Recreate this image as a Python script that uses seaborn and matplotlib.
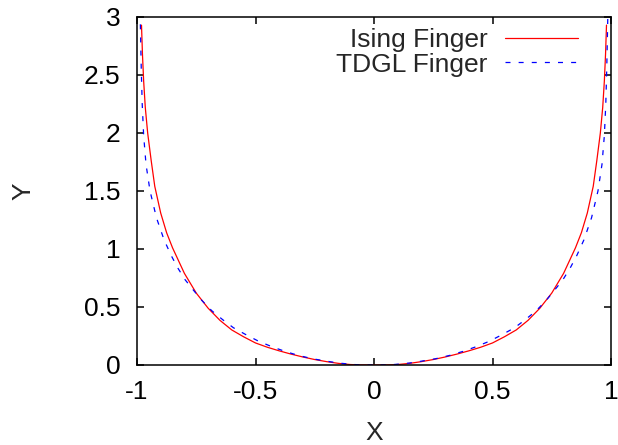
import pandas as pd
import seaborn as sns
import matplotlib
matplotlib.use("Agg")
import matplotlib.pyplot as plt

# values (both fingers are nearly symmetric)
ising_x = [-0.981, -0.977, -0.972, -0.965, -0.955, -0.940, -0.925, -0.900, -0.875,
           -0.850, -0.800, -0.750, -0.700, -0.650, -0.600, -0.550, -0.500, -0.450,
           -0.400, -0.350, -0.300, -0.250, -0.200, -0.150, -0.100, -0.060, 0.0,
           0.060, 0.100, 0.150, 0.200, 0.250, 0.300, 0.350, 0.400, 0.450, 0.500,
           0.550, 0.600, 0.650, 0.700, 0.750, 0.800, 0.850, 0.875, 0.900, 0.925,
           0.940, 0.955, 0.965, 0.972, 0.977, 0.981]
ising_y = [2.93, 2.68, 2.45, 2.22, 2.00, 1.76, 1.54, 1.31, 1.14,
           1.01, 0.79, 0.62, 0.49, 0.385, 0.302, 0.243, 0.190, 0.153,
           0.122, 0.094, 0.069, 0.047, 0.029, 0.014, 0.004, 0.001, 0.0,
           0.001, 0.004, 0.014, 0.029, 0.047, 0.069, 0.094, 0.122, 0.153, 0.190,
           0.243, 0.302, 0.385, 0.49, 0.62, 0.79, 1.01, 1.14, 1.31, 1.54,
           1.76, 2.00, 2.22, 2.45, 2.68, 2.93]

tdgl_x = [-0.987, -0.985, -0.982, -0.978, -0.972, -0.962, -0.945, -0.918, -0.886,
          -0.856, -0.828, -0.797, -0.761, -0.726, -0.684, -0.638, -0.593, -0.540,
          -0.487, -0.430, -0.375, -0.320, -0.260, -0.200, -0.150, -0.090, -0.060, 0.0,
          0.060, 0.090, 0.150, 0.200, 0.260, 0.320, 0.375, 0.430, 0.487, 0.540,
          0.593, 0.638, 0.684, 0.726, 0.761, 0.797, 0.828, 0.856, 0.886, 0.918,
          0.945, 0.962, 0.972, 0.978, 0.982, 0.985, 0.987]
tdgl_y = [3.05, 2.85, 2.55, 2.25, 1.98, 1.73, 1.50, 1.27, 1.08,
          0.945, 0.837, 0.735, 0.643, 0.556, 0.467, 0.390, 0.321, 0.261,
          0.205, 0.157, 0.117, 0.083, 0.054, 0.033, 0.017, 0.005, 0.001, 0.0,
          0.001, 0.005, 0.017, 0.033, 0.054, 0.083, 0.117, 0.157, 0.205, 0.261,
          0.321, 0.390, 0.467, 0.556, 0.643, 0.735, 0.837, 0.945, 1.08, 1.27,
          1.50, 1.73, 1.98, 2.25, 2.55, 2.85, 3.05]

x_ticks = [-1, -0.5, 0, 0.5, 1]
x_tick_labels = ["-1", "-0.5", "0", "0.5", "1"]
y_ticks = [0, 0.5, 1, 1.5, 2, 2.5, 3]
y_tick_labels = ["0", "0.5", "1", "1.5", "2", "2.5", "3"]

sns.set_style("ticks")
plt.rcParams['font.family'] = ['Liberation Sans', 'DejaVu Sans']
plt.rcParams['font.size'] = 19

fig = plt.figure(figsize=(6.18, 4.45), dpi=100)
ax = fig.add_axes([137 / 618, 1 - 365 / 445, 474 / 618, 348 / 445])

sns.lineplot(x=ising_x, y=ising_y, sort=False, color="#ff0000", linewidth=0.9,
             label="Ising Finger", ax=ax)
sns.lineplot(x=tdgl_x, y=tdgl_y, sort=False, color="#0000ff", linewidth=0.9,
             dashes=False, label="TDGL Finger", ax=ax)
ax.lines[1].set_dashes((4, 6.5))

ax.set_xlim(-1, 1)
ax.set_ylim(0, 3)
ax.set_xticks(x_ticks)
ax.set_xticklabels(x_tick_labels)
ax.set_yticks(y_ticks)
ax.set_yticklabels(y_tick_labels)
ax.tick_params(direction="in", length=5, width=1.1, top=True, right=True,
               labelsize=19, colors="black")
ax.tick_params(axis="x", pad=11)
ax.tick_params(axis="y", pad=12)
for s in ax.spines.values():
    s.set_linewidth(1.1)
    s.set_color("black")

ax.set_xlabel("X", fontsize=19)
ax.set_ylabel("Y", fontsize=19)
ax.xaxis.set_label_coords(0.5, -0.16)
ax.yaxis.set_label_coords(-0.215, 0.5)

leg = ax.legend(loc="upper right", bbox_to_anchor=(0.93, 0.968), frameon=False,
                markerfirst=False, handlelength=2.75, handletextpad=0.68,
                labelspacing=0.02, borderaxespad=0, borderpad=0, fontsize=19)
for h in leg.get_lines():
    h.set_linewidth(0.9)
leg.get_lines()[1].set_dashes((4, 6.5))

fig.savefig("out.png", dpi=100)
